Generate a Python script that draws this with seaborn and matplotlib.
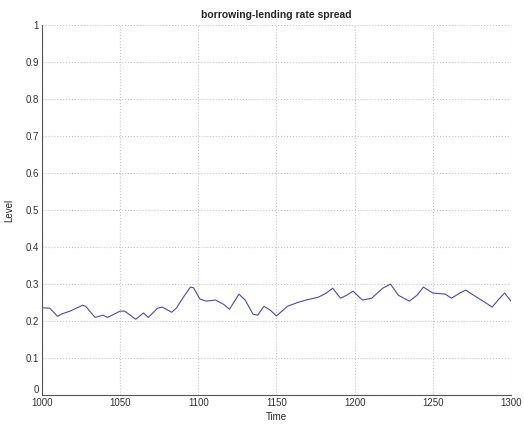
import numpy as np
import pandas as pd
import matplotlib
matplotlib.use("Agg")
import matplotlib.pyplot as plt
import seaborn as sns

# =========================
# DATA
# =========================

time = [1000, 1005, 1010, 1013, 1018, 1026, 1028, 1034, 1039, 1042, 1050,
        1053, 1060, 1065, 1068, 1074, 1077, 1083, 1086, 1091, 1095, 1097,
        1101, 1105, 1111, 1116, 1120, 1126, 1130, 1135, 1138, 1142, 1146,
        1150, 1157, 1164, 1169, 1177, 1182, 1186, 1191, 1195, 1199, 1205,
        1211, 1218, 1223, 1228, 1235, 1240, 1244, 1250, 1258, 1262, 1267,
        1271, 1278, 1283, 1288, 1292, 1296, 1300]
level = [0.236, 0.235, 0.213, 0.220, 0.227, 0.243, 0.240, 0.210, 0.216,
         0.210, 0.227, 0.227, 0.205, 0.222, 0.210, 0.235, 0.238, 0.224,
         0.235, 0.268, 0.292, 0.290, 0.260, 0.254, 0.257, 0.246, 0.232,
         0.273, 0.257, 0.219, 0.216, 0.240, 0.230, 0.214, 0.240, 0.251,
         0.257, 0.265, 0.276, 0.289, 0.262, 0.270, 0.281, 0.257, 0.262,
         0.289, 0.300, 0.270, 0.254, 0.270, 0.292, 0.276, 0.273, 0.262,
         0.275, 0.284, 0.265, 0.252, 0.238, 0.258, 0.276, 0.254]

y_ticks = [0, 0.1, 0.2, 0.3, 0.4, 0.5, 0.6, 0.7, 0.8, 0.9, 1]
y_labels = ["0", "0.1", "0.2", "0.3", "0.4", "0.5", "0.6", "0.7", "0.8", "0.9", "1"]
x_ticks = [1000, 1050, 1100, 1150, 1200, 1250, 1300]

df = pd.DataFrame({"Time": time, "Level": level})

# =========================
# PLOT
# =========================

sns.set_style("white")
plt.rcParams['font.family'] = ['Liberation Sans', 'DejaVu Sans']

fig = plt.figure(figsize=(5.24, 4.24), dpi=100)
ax = fig.add_axes([0.080, 0.068, 0.895, 0.873])

sns.lineplot(data=df, x="Time", y="Level", ax=ax, color="#4a4ab4", linewidth=0.8)

ax.set_xlim(1000, 1300)
ax.set_ylim(0, 1)
ax.set_xticks(x_ticks)
ax.set_yticks(y_ticks)
ax.set_yticklabels(y_labels)

# MATLAB-style "0" sits just above the x tick label
ax.get_yticklabels()[0].set_verticalalignment("bottom")

ax.grid(True, linestyle=":", color="#c4c4c4", linewidth=0.8)
ax.tick_params(direction="in", length=3, labelsize=7, colors="#333333", pad=2)

for side in ["top", "right"]:
    ax.spines[side].set_visible(False)
for side in ["left", "bottom"]:
    ax.spines[side].set_color("#555555")
    ax.spines[side].set_linewidth(0.8)

ax.set_title("borrowing-lending rate spread", fontsize=7.5, fontweight="bold", pad=5)
ax.set_xlabel("Time", fontsize=7, labelpad=3)
ax.set_ylabel("Level", fontsize=7, labelpad=8)

fig.savefig("out.png", dpi=100)
